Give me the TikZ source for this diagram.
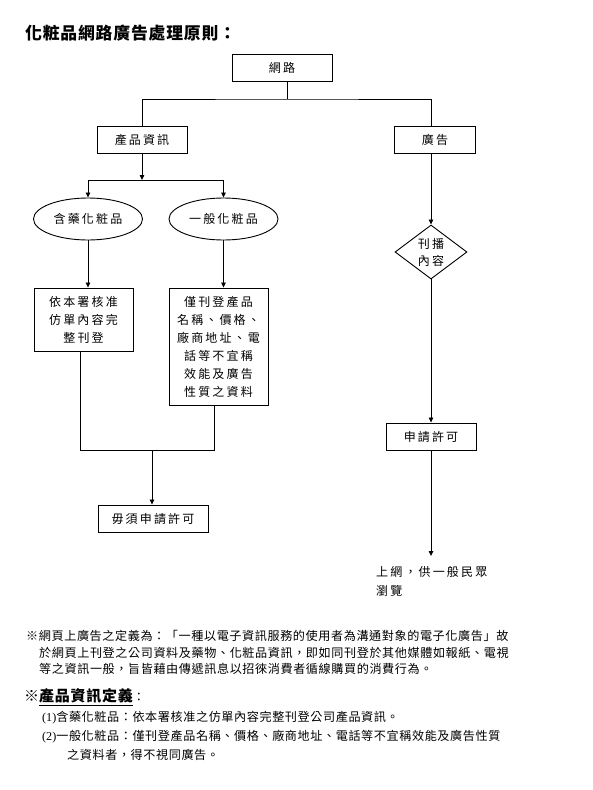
\documentclass[tikz,border=0pt]{standalone}
\usepackage{fontspec}
\setmainfont{Liberation Serif}
\newfontfamily\cjk[LetterSpace=18]{Noto Sans CJK TC}
\newfontfamily\cjkn[LetterSpace=5]{Noto Sans CJK TC}
\newfontfamily\lat{Liberation Serif}
\usetikzlibrary{shapes.geometric,arrows.meta}
\begin{document}
\begin{tikzpicture}[x=1pt,y=-1pt,
  conn/.style={line width=0.8pt},
  arr/.style={conn,-{Triangle[length=5pt,width=4.5pt]}},
  boxfont/.style={font=\cjk\fontsize{12}{18}\selectfont},
  rbox/.style={draw,line width=0.9pt,inner sep=0pt,align=center,boxfont},
  ell/.style={draw,ellipse,line width=0.9pt,inner sep=0pt,align=center,boxfont},
  dia/.style={draw,diamond,aspect=1.33,line width=0.9pt,inner sep=0pt,align=center,font=\cjk\fontsize{12}{17}\selectfont},
  note/.style={anchor=west,inner sep=0pt,font=\cjkn\fontsize{12.1}{17}\selectfont}]
\useasboundingbox (0,0) rectangle (592,790);
\fill[white] (0,0) rectangle (592,790);

% title
\node[anchor=west,inner sep=0pt,font=\cjkn\fontsize{16.8}{20}\selectfont\bfseries] (title) at (25,33) {化粧品網路廣告處理原則：};

% nodes
\node[rbox,minimum width=100,minimum height=27] (net) at (282,67.5) {網路};
\node[rbox,minimum width=90,minimum height=27] (prod) at (142,139.5) {產品資訊};
\node[rbox,minimum width=81,minimum height=27] (ad) at (435,139.5) {廣告};
\node[ell,minimum width=109,minimum height=42] (e1) at (88,219) {含藥化粧品};
\node[ell,minimum width=109,minimum height=42] (e2) at (223.5,219) {一般化粧品};
\node[rbox,minimum width=99,minimum height=63] (b1) at (83.5,319.5) {依本署核准\\仿單內容完\\整刊登};
\node[rbox,minimum width=99,minimum height=117] (b2) at (218.5,346.5) {僅刊登產品\\名稱、價格、\\廠商地址、電\\話等不宜稱\\效能及廣告\\性質之資料};
\node[rbox,minimum width=110,minimum height=27] (nop) at (153,518.5) {毋須申請許可};
\node[dia,minimum width=72,minimum height=54] (dm) at (431,252) {刊播\\內容};
\node[rbox,minimum width=90,minimum height=27] (req) at (431,436.5) {申請許可};
\node[anchor=north west,inner sep=0pt,align=left,font=\cjk\fontsize{12}{19}\selectfont] (pub) at (376,566) {上網，供一般民眾\\瀏覽};

% coordinates
\coordinate (jn) at (287,99);
\coordinate (js) at (142,180);
\coordinate (m1) at (80,450);
\coordinate (m2) at (214,450);
\coordinate (m) at (152,450);
\coordinate (pe) at (431,556);

% connectors
\draw[conn] (net.south -| jn) -- (jn);
\draw[conn] (prod.north) |- (jn) -| (dm.north |- ad.north);
\draw[arr] (prod.south) -- (js);
\draw[conn] (e1.north |- js) -- (e2.north |- js);
\draw[arr] (e1.north |- js) -- (e1.north);
\draw[arr] (e2.north |- js) -- (e2.north);
\draw[arr] (e1.south) -- (e1.south |- b1.north);
\draw[arr] (e2.south) -- (e2.south |- b2.north);
\draw[conn] (b1.south -| m1) -- (m1) -- (m2) -- (b2.south -| m2);
\draw[arr] (m) -- (m |- nop.north);
\draw[arr] (dm.north |- ad.south) -- (dm.north);
\draw[arr] (dm.south) -- (req.north);
\draw[arr] (req.south) -- (pe);

% notes
\node[note] (n1) at (26,636) {※網頁上廣告之定義為：「一種以電子資訊服務的使用者為溝通對象的電子化廣告」故};
\node[note] (n2) at (39,653) {於網頁上刊登之公司資料及藥物、化粧品資訊，即如同刊登於其他媒體如報紙、電視};
\node[note] (n3) at (39,669) {等之資訊一般，旨皆藉由傳遞訊息以招徠消費者循線購買的消費行為。};
\node[note] (h) at (24,697) {{\fontsize{15}{17}\selectfont ※\bfseries\underline{產品資訊定義}}：};
\node[note] (p1) at (42,718) {{\lat (1)}含藥化粧品：依本署核准之仿單內容完整刊登公司產品資訊。};
\node[note] (p2) at (42,737) {{\lat (2)}一般化粧品：僅刊登產品名稱、價格、廠商地址、電話等不宜稱效能及廣告性質};
\node[note] (p3) at (67,755) {之資料者，得不視同廣告。};
\end{tikzpicture}
\end{document}
